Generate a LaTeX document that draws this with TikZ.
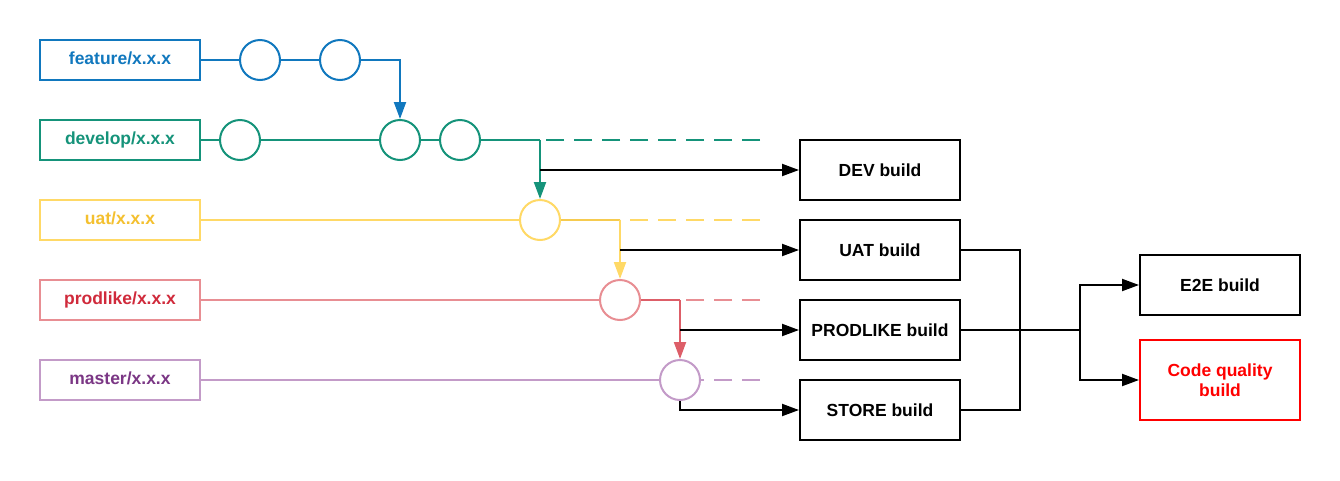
\documentclass[tikz,border=0pt]{standalone}
\usepackage{fontspec}
\setmainfont{Liberation Sans}
\usetikzlibrary{arrows.meta}
\definecolor{cblue}{HTML}{1178BE}
\definecolor{cgreen}{HTML}{15937A}
\definecolor{cyel}{HTML}{FFD966}
\definecolor{cyeltext}{HTML}{F4C02F}
\definecolor{cyeldark}{HTML}{F6CB4F}
\definecolor{cpink}{HTML}{E88E93}
\definecolor{cpinktext}{HTML}{D02A3B}
\definecolor{cpinkdark}{HTML}{DD5E68}
\definecolor{cpurp}{HTML}{C39BC8}
\definecolor{cpurptext}{HTML}{7B3785}
\begin{document}
\begin{tikzpicture}[x=1pt,y=-1pt,
  font=\fontsize{17.5}{20}\selectfont\bfseries,
  branch/.style={draw=#1,line width=2pt,minimum width=160pt,minimum height=40pt,inner sep=0pt,fill=white},
  build/.style={draw=black,line width=2pt,minimum width=160pt,minimum height=60pt,inner sep=0pt,align=center,fill=white},
  commit/.style={draw=#1,circle,line width=2pt,minimum size=40pt,inner sep=0pt,fill=white},
  conn/.style={line width=2pt},
  tip/.style={-{Triangle[length=17pt,width=12pt]}},
  dsh/.style={line width=2pt,dash pattern=on 18pt off 10pt}
]
\useasboundingbox (0,0) rectangle (1340,480);
\coordinate (j1) at (540,140);
\coordinate (b1) at (540,170);
\coordinate (e1) at (760,140);
\coordinate (j2) at (620,220);
\coordinate (b2) at (620,250);
\coordinate (e2) at (760,220);
\coordinate (j3) at (680,300);
\coordinate (b3) at (680,330);
\coordinate (e3) at (760,300);
\coordinate (e4) at (760,380);
\coordinate (k1) at (1020,250);
\coordinate (k2) at (1020,410);
\coordinate (k3) at (1020,330);
\coordinate (k4) at (1080,330);

% branch labels (text nudged up as in the reference)
\node[branch=cblue,text=cblue] (fb) at (120,60) {\raisebox{3pt}{feature/x.x.x}};
\node[branch=cgreen,text=cgreen] (db) at (120,140) {\raisebox{3pt}{develop/x.x.x}};
\node[branch=cyel,text=cyeltext] (ub) at (120,220) {\raisebox{3pt}{uat/x.x.x}};
\node[branch=cpink,text=cpinktext] (pb) at (120,300) {\raisebox{3pt}{prodlike/x.x.x}};
\node[branch=cpurp,text=cpurptext] (mb) at (120,380) {\raisebox{3pt}{master/x.x.x}};

% commits
\node[commit=cblue] (f1) at (260,60) {};
\node[commit=cblue] (f2) at (340,60) {};
\node[commit=cgreen] (d1) at (240,140) {};
\node[commit=cgreen] (d2) at (400,140) {};
\node[commit=cgreen] (d3) at (460,140) {};
\node[commit=cyel] (u1) at (540,220) {};
\node[commit=cpink] (p1) at (620,300) {};
\node[commit=cpurp] (m1) at (680,380) {};

% builds
\node[build] (dev) at (880,170) {DEV build};
\node[build] (uat) at (880,250) {UAT build};
\node[build] (prod) at (880,330) {PRODLIKE build};
\node[build] (store) at (880,410) {STORE build};
\node[build] (e2e) at (1220,285) {E2E build};
\node[build,draw=red,text=red,minimum height=80pt] (cq) at (1220,380) {Code quality\\build};

% feature line
\draw[conn,cblue] (fb.east) -- (f1);
\draw[conn,cblue] (f1) -- (f2);
\draw[conn,cblue,tip] (f2.east) -| (d2.north);
% develop line
\draw[conn,cgreen] (db.east) -- (d1);
\draw[conn,cgreen] (d1) -- (d2);
\draw[conn,cgreen] (d2) -- (d3);
\draw[conn,cgreen] (d3.east) -- (j1);
\draw[dsh,cgreen] (e1) -- (j1);
\draw[conn,cgreen,tip] (j1) -- (u1.north);
\draw[conn,black,tip] (b1) -- (dev.west);
% uat line
\draw[conn,cyel] (ub.east) -- (u1);
\draw[conn,cyeldark] (u1.east) -- (j2);
\draw[dsh,cyel] (e2) -- (j2);
\draw[conn,cyel,tip] (j2) -- (p1.north);
\draw[conn,black,tip] (b2) -- (uat.west);
% prodlike line
\draw[conn,cpink] (pb.east) -- (p1);
\draw[conn,cpinkdark] (p1.east) -- (j3);
\draw[dsh,cpink] (e3) -- (j3);
\draw[conn,cpinkdark,tip] (j3) -- (m1.north);
\draw[conn,black,tip] (b3) -- (prod.west);
% master line
\draw[conn,cpurp] (mb.east) -- (m1);
\draw[dsh,cpurp] (e4) -- (m1.east);
\draw[conn,black,tip] (m1.south) |- (store.west);
% right bracket
\draw[conn] (uat.east) -- (k1) -- (k2) -- (store.east);
\draw[conn] (prod.east) -- (k3) -- (k4);
\draw[conn,tip] (k4) |- (e2e.west);
\draw[conn,tip] (k4) |- (cq.west);
\end{tikzpicture}
\end{document}
